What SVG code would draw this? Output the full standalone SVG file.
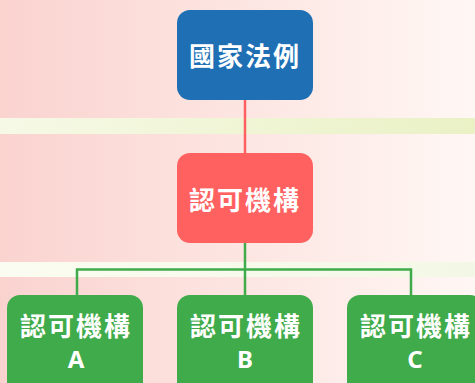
<svg xmlns="http://www.w3.org/2000/svg" width="475" height="383" viewBox="0 0 475 383">
<defs>
<linearGradient id="bg" x1="0" y1="0" x2="1" y2="0">
<stop offset="0" stop-color="#fad3cf"/>
<stop offset="1" stop-color="#fff7f4"/>
</linearGradient>
<linearGradient id="band1" x1="0" y1="0" x2="1" y2="0">
<stop offset="0" stop-color="#f6f9e6"/>
<stop offset="1" stop-color="#eaf1c5"/>
</linearGradient>
<linearGradient id="band2" x1="0" y1="0" x2="1" y2="0">
<stop offset="0" stop-color="#fbfcf1"/>
<stop offset="1" stop-color="#f3f8e6"/>
</linearGradient>
</defs>
<style>
.t{fill:#fff;font-family:"Noto Sans CJK TC","Noto Sans",sans-serif;font-weight:bold;font-size:26px;letter-spacing:2px;text-anchor:middle}
.l{fill:#fff;font-family:"Noto Sans","Noto Sans CJK TC",sans-serif;font-weight:bold;font-size:24px;text-anchor:middle}
.blue{fill:#1e6fb4}
.red{fill:#ff6161}
.green{fill:#3fab4a}
</style>
<rect width="475" height="383" fill="url(#bg)"/>
<rect x="0" y="118" width="475" height="16" fill="url(#band1)"/>
<rect x="0" y="262" width="475" height="15" fill="url(#band2)"/>
<g id="connectors" fill="none" stroke-width="2.5">
<line x1="245" y1="100" x2="245" y2="153" stroke="#ff6161"/>
<path d="M245 243 V295 M77 295 V269.5 H411 V295" stroke="#3fab4a"/>
</g>
<g id="n1"><rect x="177" y="10" width="136" height="90" rx="13" class="blue"/><text x="245" y="66" class="t">國家法例</text></g>
<g id="n2"><rect x="177" y="153" width="136" height="90" rx="13" class="red"/><text x="245" y="210" class="t">認可機構</text></g>
<g id="n3"><rect x="7" y="295" width="136" height="100" rx="13" class="green"/><text x="76" y="336" class="t">認可機構</text><text x="76" y="368" class="l">A</text></g>
<g id="n4"><rect x="177" y="295" width="136" height="100" rx="13" class="green"/><text x="246" y="336" class="t">認可機構</text><text x="245" y="368" class="l">B</text></g>
<g id="n5"><rect x="347" y="295" width="136" height="100" rx="13" class="green"/><text x="416" y="336" class="t">認可機構</text><text x="415" y="368" class="l">C</text></g>
</svg>
